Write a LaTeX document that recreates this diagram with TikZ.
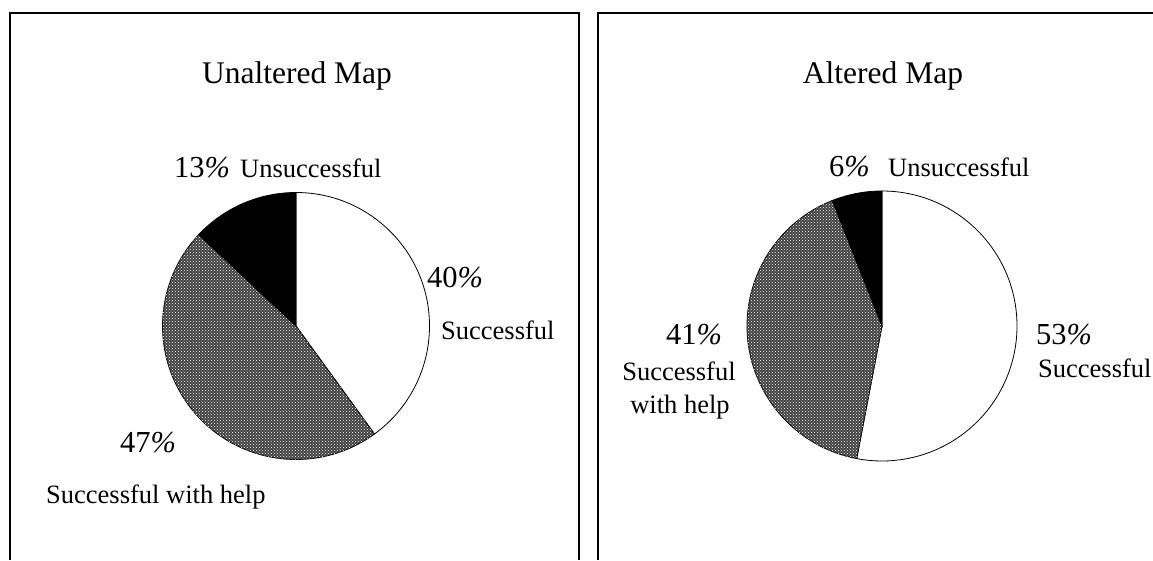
\documentclass[tikz,border=0pt]{standalone}
\usepackage{fontspec}
\setmainfont{Liberation Serif}
\usetikzlibrary{patterns}

\begin{document}
\begin{tikzpicture}[
    x=1pt, y=1pt,
    panel/.style={line width=1.1pt},
    slice/.style={draw, line width=0.8pt},
    help/.style={slice, fill=black!75, postaction={pattern=crosshatch dots, pattern color=white}},
    title/.style={anchor=base, inner sep=0pt, font=\fontsize{31.5}{36}\selectfont},
    pct/.style={anchor=base west, inner sep=0pt, font=\fontsize{30.5}{34}\selectfont},
    lbl/.style={anchor=base west, inner sep=0pt, font=\fontsize{26.5}{30}\selectfont}
]
\useasboundingbox (0,0) rectangle (1153,560);

% Panels
\draw[panel] (10,0) -- (10,547) -- (579,547) -- (579,0);
\draw[panel] (598,0) -- (598,547) -- (1153,547);

% Unaltered map pie
\coordinate (uc) at (296,234);
\draw[slice, fill=white] (uc) -- ++(90:133.5) arc[start angle=90, end angle=-54, radius=133.5] -- cycle;
\draw[help] (uc) -- ++(-54:133.5) arc[start angle=-54, end angle=-223.2, radius=133.5] -- cycle;
\draw[slice, fill=black] (uc) -- ++(136.8:133.5) arc[start angle=136.8, end angle=90, radius=133.5] -- cycle;

\node[title] (utitle) at (297,476) {Unaltered Map};
\node[pct] (uunsp) at (174,382) {13\textit{\%}};
\node[lbl] (uuns) at (240,382) {Unsuccessful};
\node[pct] (usucp) at (427,272) {40\textit{\%}};
\node[lbl] (usuc) at (441,220) {Successful};
\node[pct] (uhelpp) at (120,108) {47\textit{\%}};
\node[lbl] (uhelp) at (46,57) {Successful with help};

% Altered map pie
\coordinate (ac) at (882,234);
\draw[slice, fill=white] (ac) -- ++(90:135) arc[start angle=90, end angle=-100.8, radius=135] -- cycle;
\draw[help] (ac) -- ++(-100.8:135) arc[start angle=-100.8, end angle=-248.4, radius=135] -- cycle;
\draw[slice, fill=black] (ac) -- ++(111.6:135) arc[start angle=111.6, end angle=90, radius=135] -- cycle;

\node[title] (atitle) at (883,476) {Altered Map};
\node[pct] (aunsp) at (829,383) {6\textit{\%}};
\node[lbl] (auns) at (888,383) {Unsuccessful};
\node[pct] (asucp) at (1036,215) {53\textit{\%}};
\node[lbl] (asuc) at (1038,183) {Successful};
\node[pct] (ahelpp) at (666,215) {41\textit{\%}};
\node[lbl, anchor=base] (ahelp) at (679,180) {Successful};
\node[lbl, anchor=base] (ahelp2) at (680,147) {with help};

\end{tikzpicture}
\end{document}
